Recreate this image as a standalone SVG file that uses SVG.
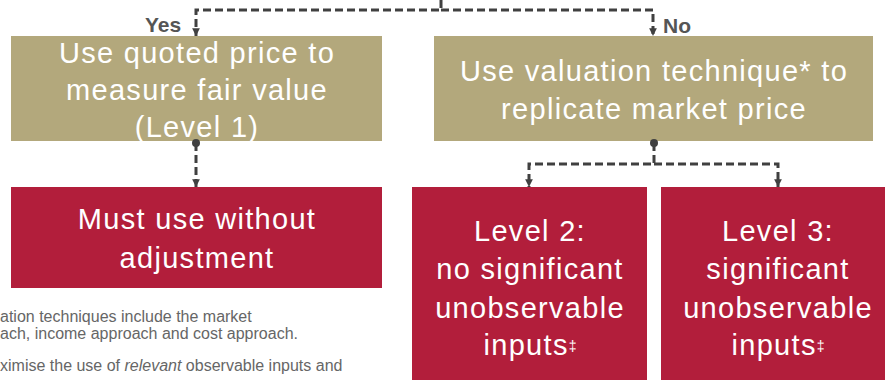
<svg xmlns="http://www.w3.org/2000/svg" width="885" height="380" viewBox="0 0 885 380">
  <style>
    .tan { fill: #B3A87C; }
    .red { fill: #B21E3B; }
    .big { font-family: "Liberation Sans", Arial, sans-serif; font-size: 29px; fill: #ffffff; text-anchor: middle; letter-spacing: 1.3px; }
    .lbl { font-family: "Liberation Sans", Arial, sans-serif; font-size: 21px; font-weight: bold; fill: #555555; }
    .note { font-family: "Liberation Sans", Arial, sans-serif; font-size: 16px; fill: #666666; }
    .sup { font-size: 14px; letter-spacing: 0; }
    .conn { fill: none; stroke: #404040; stroke-width: 3; stroke-dasharray: 8 4; }
    .dot { fill: #404040; }
  </style>
  <defs>
    <marker id="arrow" viewBox="0 0 10 10" refX="10" refY="5" markerWidth="2.6" markerHeight="2.6" markerUnits="strokeWidth" orient="auto">
      <path d="M0,0 L10,5 L0,10 Z" fill="#404040"/>
    </marker>
  </defs>

  <!-- boxes -->
  <g id="node-quoted">
    <rect class="tan" x="11" y="36" width="371" height="105"/>
    <text class="big" x="197" y="63">Use quoted price to</text>
    <text class="big" x="197" y="100">measure fair value</text>
    <text class="big" x="197" y="137">(Level 1)</text>
  </g>
  <g id="node-technique">
    <rect class="tan" x="434" y="36" width="439" height="105"/>
    <text class="big" x="654" y="81">Use valuation technique* to</text>
    <text class="big" x="654" y="119">replicate market price</text>
  </g>
  <g id="node-noadjust">
    <rect class="red" x="11" y="187" width="371" height="101"/>
    <text class="big" x="197" y="229">Must use without</text>
    <text class="big" x="197" y="268">adjustment</text>
  </g>
  <g id="node-level2">
    <rect class="red" x="412" y="187" width="235" height="200"/>
    <text class="big" x="530" y="241">Level 2:</text>
    <text class="big" x="530" y="279">no significant</text>
    <text class="big" x="530" y="318">unobservable</text>
    <text class="big" x="530" y="355">inputs<tspan class="sup" dy="-4">‡</tspan></text>
  </g>
  <g id="node-level3">
    <rect class="red" x="661" y="187" width="230" height="200"/>
    <text class="big" x="778" y="241">Level 3:</text>
    <text class="big" x="778" y="279">significant</text>
    <text class="big" x="778" y="318">unobservable</text>
    <text class="big" x="778" y="355">inputs<tspan class="sup" dy="-4">‡</tspan></text>
  </g>

  <!-- connectors -->
  <g id="connectors">
    <path class="conn" d="M441,0 V10 H196 V36" marker-end="url(#arrow)"/>
    <path class="conn" d="M441,10 H653 V36" marker-end="url(#arrow)"/>
    <circle class="dot" cx="196" cy="143" r="4"/>
    <path class="conn" d="M196,143 V187" marker-end="url(#arrow)"/>
    <circle class="dot" cx="654" cy="143" r="4"/>
    <path class="conn" d="M654,143 V164 H529 V187" marker-end="url(#arrow)"/>
    <path class="conn" d="M654,164 H778 V187" marker-end="url(#arrow)"/>
  </g>

  <!-- branch labels -->
  <text class="lbl" x="145" y="32">Yes</text>
  <text class="lbl" x="663" y="33">No</text>

  <!-- footnotes -->
  <g id="footnotes">
    <text class="note" x="0" y="322">ation techniques include the market</text>
    <text class="note" x="0" y="339">ach, income approach and cost approach.</text>
    <text class="note" x="0" y="371">ximise the use of <tspan font-style="italic">relevant</tspan> observable inputs and</text>
  </g>
</svg>
